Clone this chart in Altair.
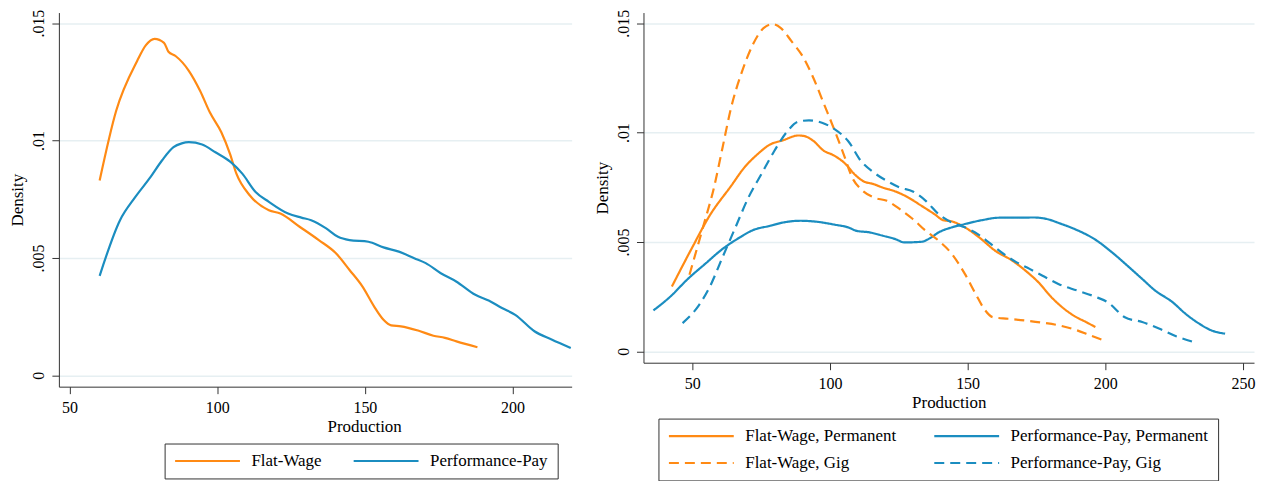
import altair as alt
import pandas as pd

# ---------------- Left panel data ----------------
fw_x = [60.2, 65.8, 72.9, 75.8, 78.8, 82.0, 83.5, 85.9, 90.4, 94.2, 97.5, 101.4, 104.3, 106.5,
        111.0, 117.5, 121.4, 127.9, 134.4, 140.2, 144.8, 149.2, 153.1, 156.3, 158.9, 162.2,
        168.0, 173.2, 177.1, 181.0, 188.1]
fw_y = [0.0083, 0.01127, 0.01339, 0.01405, 0.01433, 0.01416, 0.01378, 0.0136, 0.01297, 0.01212,
        0.0112, 0.01035, 0.00944, 0.00859, 0.00767, 0.00703, 0.00689, 0.00633, 0.00576, 0.0052,
        0.00449, 0.00378, 0.00294, 0.00237, 0.00213, 0.00209, 0.00191, 0.00169, 0.0016, 0.00145,
        0.0012]

pp_x = [60.2, 67.1, 72.3, 77.4, 81.3, 85.2, 88.0, 90.4, 94.9, 99.4, 104.6, 108.5, 113.0, 117.5,
        124.0, 128.5, 131.8, 136.9, 140.9, 144.8, 151.2, 156.3, 161.5, 166.7, 170.6, 175.7,
        180.9, 187.4, 191.9, 196.4, 200.9, 207.4, 213.2, 219.7]
pp_y = [0.00424, 0.00661, 0.0076, 0.00844, 0.00915, 0.00972, 0.00988, 0.00993, 0.00983, 0.0095,
        0.00908, 0.00859, 0.00781, 0.00739, 0.00689, 0.00672, 0.00661, 0.00626, 0.0059, 0.00576,
        0.00569, 0.00545, 0.00527, 0.00499, 0.00478, 0.00435, 0.004, 0.00343, 0.00319, 0.00287,
        0.00258, 0.00188, 0.00153, 0.00117]

# ---------------- Right panel data ----------------
fwp_x = [42.6, 50.0, 56.3, 64.1, 68.9, 73.6, 78.3, 83.0, 88.5, 90.8, 94.0, 97.9, 101.1, 105.8,
         108.9, 112.0, 116.0, 119.1, 123.8, 128.5, 133.3, 138.0, 141.1, 144.3, 149.0, 154.5,
         160.0, 166.2, 171.0, 175.7, 180.4, 185.1, 189.1, 193.0, 196.4]
fwp_y = [0.00296, 0.00475, 0.0062, 0.00756, 0.0084, 0.009, 0.00946, 0.00965, 0.00987, 0.00984,
         0.00962, 0.00916, 0.00898, 0.00855, 0.0081, 0.00779, 0.00764, 0.00749, 0.00731, 0.00703,
         0.00665, 0.00627, 0.006, 0.00594, 0.00567, 0.00518, 0.0046, 0.00415, 0.00369, 0.00316,
         0.00248, 0.00194, 0.00159, 0.00134, 0.00111]

fwg_x = [49.0, 53.9, 57.9, 61.0, 64.1, 68.1, 72.0, 75.9, 79.1, 82.2, 86.1, 90.1, 94.0, 97.9,
         101.8, 105.0, 108.1, 111.3, 116.0, 120.7, 125.4, 130.1, 134.8, 139.5, 144.3, 149.0,
         152.9, 156.0, 159.2, 164.7, 171.0, 177.2, 183.5, 189.8, 194.5, 198.9]
fwg_y = [0.0035, 0.00567, 0.00749, 0.00931, 0.01113, 0.0128, 0.01402, 0.01478, 0.01496, 0.01478,
         0.01417, 0.01349, 0.0125, 0.01129, 0.01007, 0.00901, 0.00794, 0.00741, 0.00703, 0.00688,
         0.0065, 0.00605, 0.00551, 0.00506, 0.00445, 0.00354, 0.00263, 0.00194, 0.00156, 0.00149,
         0.00141, 0.00131, 0.00118, 0.00096, 0.00073, 0.00053]

ppp_x = [35.9, 42.1, 48.4, 54.7, 61.0, 67.3, 72.0, 78.3, 83.0, 89.3, 95.6, 101.8, 106.6, 109.7,
         114.4, 119.1, 123.8, 127.0, 133.3, 136.4, 139.5, 144.3, 149.0, 155.3, 161.5, 167.8,
         174.1, 178.8, 183.5, 189.8, 196.1, 202.4, 208.7, 213.4, 218.1, 224.4, 229.1, 233.8,
         238.5, 243.5]
ppp_y = [0.00187, 0.00251, 0.00331, 0.004, 0.00468, 0.00521, 0.00554, 0.00574, 0.00589, 0.00597,
         0.00592, 0.00579, 0.00567, 0.00551, 0.00544, 0.00529, 0.00513, 0.00498, 0.00501, 0.00518,
         0.00544, 0.00567, 0.00582, 0.006, 0.00611, 0.00611, 0.00612, 0.00605, 0.00585, 0.00554,
         0.00513, 0.00453, 0.00384, 0.00331, 0.00278, 0.00225, 0.00172, 0.00129, 0.00096, 0.00081]

ppg_x = [46.5, 52.4, 56.3, 61.0, 65.7, 70.4, 75.1, 79.8, 84.6, 88.5, 92.4, 97.1, 101.8, 106.6,
         111.3, 116.0, 120.7, 125.4, 130.1, 134.8, 139.5, 144.3, 149.0, 153.7, 158.4, 163.1,
         167.8, 172.5, 177.2, 183.5, 189.8, 196.1, 200.8, 207.1, 213.4, 219.7, 225.9, 233.5]
ppg_y = [0.00129, 0.0021, 0.00293, 0.0043, 0.00567, 0.00703, 0.0081, 0.00916, 0.01007, 0.0105,
         0.01056, 0.01045, 0.01015, 0.00962, 0.0087, 0.00817, 0.00779, 0.00749, 0.00731, 0.00688,
         0.00627, 0.00589, 0.00567, 0.00536, 0.00491, 0.00445, 0.00407, 0.00377, 0.00346, 0.00305,
         0.00278, 0.00251, 0.00225, 0.00156, 0.00134, 0.00103, 0.00068, 0.00038]

left_groups = ["Flat-Wage", "Performance-Pay"]
right_series = ["Flat-Wage, Permanent", "Performance-Pay, Permanent",
                "Flat-Wage, Gig", "Performance-Pay, Gig"]
y_ticks = [0, 0.005, 0.01, 0.015]
left_x_ticks = [50, 100, 150, 200]
right_x_ticks = [50, 100, 150, 200, 250]

ORANGE = "#FF8A14"
BLUE = "#1B8DC0"
FONT = "Liberation Serif"


def frame(xs, ys, field, name):
    return pd.DataFrame({"x": xs, "y": ys, field: name, "order": list(range(len(xs)))})


left_df = pd.concat([frame(fw_x, fw_y, "group", left_groups[0]),
                     frame(pp_x, pp_y, "group", left_groups[1])])
right_df = pd.concat([frame(fwp_x, fwp_y, "series", right_series[0]),
                      frame(ppp_x, ppp_y, "series", right_series[1]),
                      frame(fwg_x, fwg_y, "series", right_series[2]),
                      frame(ppg_x, ppg_y, "series", right_series[3])])

axis_common = dict(
    domainColor="#333", domainWidth=1, tickColor="#333", tickSize=7, tickWidth=1,
    labelFont=FONT, labelFontSize=16, labelColor="black",
    titleFont=FONT, titleFontSize=17, titleFontWeight="normal", titleColor="black",
)

y_label_expr = "datum.value == 0 ? '0' : substring(format(datum.value, '.3~f'), 1)"


def y_axis():
    return alt.Axis(values=y_ticks, title="Density", labelAngle=270, labelAlign="center",
                    labelBaseline="bottom", labelPadding=5, titlePadding=4,
                    grid=True, gridColor="#E6EFF2", gridWidth=1.5,
                    labelExpr=y_label_expr, **axis_common)


def legend(lx, ly, colpad, pad):
    return alt.Legend(orient="none", legendX=lx, legendY=ly, direction="horizontal", columns=2,
                      title=None, symbolType="stroke", symbolSize=4225, symbolStrokeWidth=2.2,
                      clipHeight=17, labelFont=FONT, labelFontSize=17, labelColor="black",
                      labelLimit=0, labelOffset=10, columnPadding=colpad, rowPadding=9,
                      padding=pad, strokeColor="#333", fillColor="white")


left = alt.Chart(left_df).mark_line(strokeWidth=2.2, interpolate="monotone", clip=True).encode(
    x=alt.X("x:Q", scale=alt.Scale(domain=[46.4, 220], nice=False, zero=False),
            axis=alt.Axis(values=left_x_ticks, title="Production", grid=False, labelPadding=6,
                          titlePadding=3, titleX=306, **axis_common)),
    y=alt.Y("y:Q", scale=alt.Scale(domain=[-0.00048, 0.01545], nice=False, zero=False),
            axis=y_axis()),
    color=alt.Color("group:N", scale=alt.Scale(domain=left_groups, range=[ORANGE, BLUE]),
                    legend=legend(106, 432, 30, 9)),
    order="order:Q",
).properties(width=514, height=375)

right_legend = legend(15, 407, 36, 9)
right = alt.Chart(right_df).mark_line(strokeWidth=2.2, interpolate="monotone", clip=True).encode(
    x=alt.X("x:Q", scale=alt.Scale(domain=[32.3, 254], nice=False, zero=False),
            axis=alt.Axis(values=right_x_ticks, title="Production", grid=False, labelPadding=6,
                          titlePadding=3, **axis_common)),
    y=alt.Y("y:Q", scale=alt.Scale(domain=[-0.00052, 0.01549], nice=False, zero=False),
            axis=y_axis()),
    color=alt.Color("series:N", scale=alt.Scale(domain=right_series,
                                                range=[ORANGE, BLUE, ORANGE, BLUE]),
                    legend=right_legend),
    strokeDash=alt.StrokeDash("series:N", scale=alt.Scale(domain=right_series,
                                                          range=[[1, 0], [1, 0], [10, 6], [10, 6]]),
                              legend=right_legend),
    order="order:Q",
).properties(width=612, height=351)

chart = alt.hconcat(left, right, spacing=20).resolve_scale(
    color="independent", strokeDash="independent", x="independent", y="independent"
).properties(
    padding={"left": 0, "top": 0, "right": 5, "bottom": 0},
    background="white",
).configure_view(stroke="transparent")

chart.save("out.html", embed_options={"renderer": "svg", "actions": False})
